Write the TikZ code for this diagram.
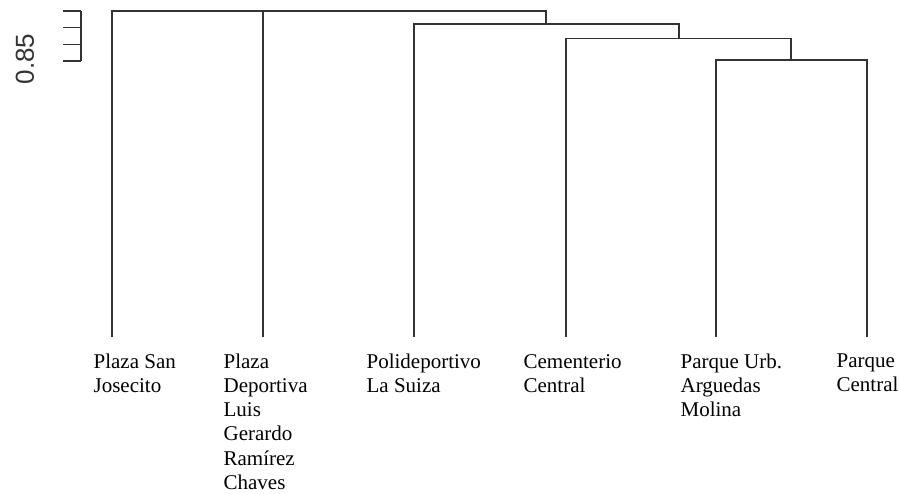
\documentclass[tikz,border=0pt]{standalone}
\usepackage{fontspec}
\setmainfont{Liberation Serif}
\newfontfamily\axisfont{Liberation Sans}
\begin{document}
\begin{tikzpicture}[x=1pt, y=-1pt, line width=1.2pt,
  branch/.style={draw=black!80},
  leaflabel/.style={anchor=north west, align=left, inner sep=0pt,
    font=\fontsize{21}{24.1}\selectfont}]
\useasboundingbox (0,0) rectangle (899,493);

% leaf tips
\coordinate (psj) at (112,337);
\coordinate (pdl) at (263,337);
\coordinate (pls) at (414,337);
\coordinate (cc)  at (566,337);
\coordinate (pua) at (716,337);
\coordinate (pc)  at (867,337);

% merge heights
\coordinate (m1) at (791,60);
\coordinate (m2) at (679,38.5);
\coordinate (m3) at (546,24);
\coordinate (m4) at (263,11);

% branches
\draw[branch] (pua) |- (m1) -| (pc);
\draw[branch] (cc) |- (m2) -| (m1);
\draw[branch] (pls) |- (m3) -| (m2);
\draw[branch] (psj) |- (m4) -| (m3);
\draw[branch] (pdl) -- (m4);

% height axis
\coordinate (atop) at (81,11);
\coordinate (abot) at (81,61);
\draw[branch] (atop) -- (abot);
\foreach \y in {11,27.7,44.3,61}
  \draw[branch] (63,\y) -- (81,\y);
\node[rotate=90, inner sep=0pt, font=\axisfont\fontsize{26}{26}\selectfont, text=black!80] (ylab) at (25,59) {0.85};

% leaf labels
\node[leaflabel] (lpsj) at (93,353.5)  {Plaza San\\Josecito};
\node[leaflabel] (lpdl) at (223,353.5) {Plaza\\Deportiva\\Luis\\Gerardo\\Ramírez\\Chaves};
\node[leaflabel] (lpls) at (366,353.5) {Polideportivo\\La Suiza};
\node[leaflabel] (lcc)  at (523,353.5) {Cementerio\\Central};
\node[leaflabel] (lpua) at (680,353.5) {Parque Urb.\\Arguedas\\Molina};
\node[leaflabel] (lpc)  at (836,353.5) {Parque\\Central};
\end{tikzpicture}
\end{document}
